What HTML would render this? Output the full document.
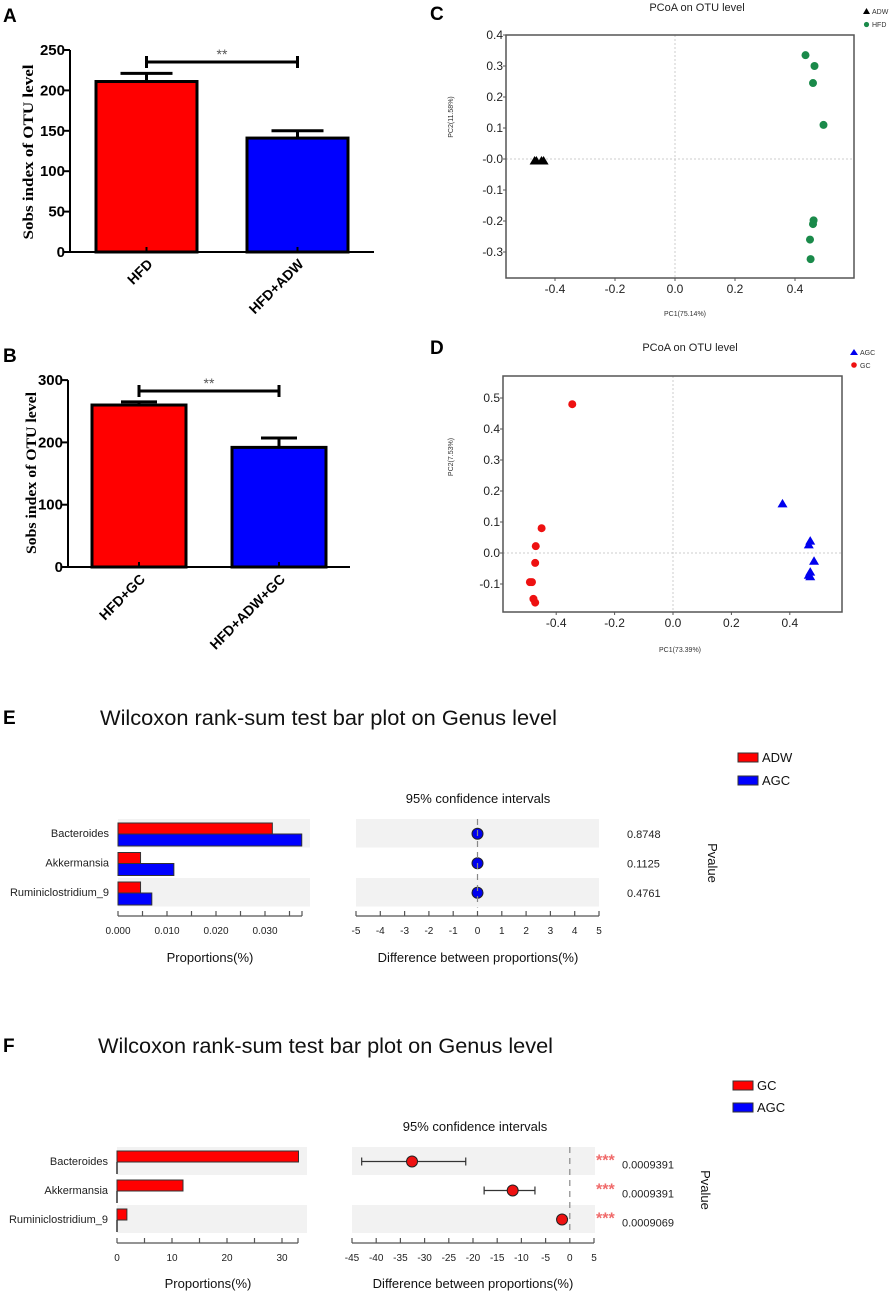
<!DOCTYPE html>
<html><head><meta charset="utf-8"><style>
html,body{margin:0;padding:0;background:#fff;}
svg{display:block;font-family:"Liberation Sans",sans-serif;}
</style></head><body>
<svg id="fig" width="892" height="1294" viewBox="0 0 892 1294" xmlns="http://www.w3.org/2000/svg">
<rect width="892" height="1294" fill="#fff"/>
<text x="3" y="22" font-size="19" font-weight="bold">A</text>
<text x="3" y="362" font-size="19" font-weight="bold">B</text>
<text x="430" y="20" font-size="19" font-weight="bold">C</text>
<text x="430" y="354" font-size="19" font-weight="bold">D</text>
<text x="3" y="724" font-size="19" font-weight="bold">E</text>
<text x="3" y="1052" font-size="19" font-weight="bold">F</text>
<text transform="translate(33,152) rotate(-90)" text-anchor="middle" font-family="Liberation Serif" font-weight="bold" font-size="15" textLength="175" lengthAdjust="spacingAndGlyphs">Sobs index of OTU level</text>
<text transform="translate(36,473) rotate(-90)" text-anchor="middle" font-family="Liberation Serif" font-weight="bold" font-size="15" textLength="162" lengthAdjust="spacingAndGlyphs">Sobs index of OTU level</text>
<text x="697" y="11" text-anchor="middle" font-size="11" fill="#222">PCoA on OTU level</text>
<text x="685" y="316" text-anchor="middle" font-size="7" fill="#333">PC1(75.14%)</text>
<text transform="translate(453,117) rotate(-90)" text-anchor="middle" font-size="7" fill="#333">PC2(11.58%)</text>
<text x="690" y="351" text-anchor="middle" font-size="11" fill="#222">PCoA on OTU level</text>
<text x="680" y="652" text-anchor="middle" font-size="7" fill="#333">PC1(73.39%)</text>
<text transform="translate(453,457) rotate(-90)" text-anchor="middle" font-size="7" fill="#333">PC2(7.53%)</text>
<g font-size="7" fill="#333">
<polygon points="863,14 866.5,8 870,14" fill="#000"/>
<text x="872" y="14">ADW</text>
<circle cx="866.5" cy="24.5" r="2.6" fill="#1a8a4a"/>
<text x="872" y="27">HFD</text>
</g>
<g font-size="7" fill="#333">
<polygon points="850,355 854,349 858,355" fill="#0000ee"/>
<text x="860" y="355">AGC</text>
<circle cx="854" cy="365" r="2.8" fill="#ee1111"/>
<text x="860" y="368">GC</text>
</g>
<text x="100" y="725" font-size="21" fill="#111" textLength="457" lengthAdjust="spacingAndGlyphs">Wilcoxon rank-sum test bar plot on Genus level</text>
<text x="478" y="803" text-anchor="middle" font-size="13" fill="#111">95% confidence intervals</text>
<text x="210" y="962" text-anchor="middle" font-size="13" fill="#111">Proportions(%)</text>
<text x="478" y="962" text-anchor="middle" font-size="13" fill="#111">Difference between proportions(%)</text>
<text transform="translate(708,863) rotate(90)" text-anchor="middle" font-size="13" fill="#111">Pvalue</text>
<g font-size="13" fill="#111">
<rect x="738" y="753" width="20" height="9" fill="#ff0000" stroke="#333" stroke-width="1"/>
<text x="762" y="762">ADW</text>
<rect x="738" y="776" width="20" height="9" fill="#0000ff" stroke="#333" stroke-width="1"/>
<text x="762" y="785">AGC</text>
</g>
<text x="98" y="1053" font-size="21" fill="#111" textLength="455" lengthAdjust="spacingAndGlyphs">Wilcoxon rank-sum test bar plot on Genus level</text>
<text x="475" y="1131" text-anchor="middle" font-size="13" fill="#111">95% confidence intervals</text>
<text x="208" y="1288" text-anchor="middle" font-size="13" fill="#111">Proportions(%)</text>
<text x="473" y="1288" text-anchor="middle" font-size="13" fill="#111">Difference between proportions(%)</text>
<text transform="translate(701,1190) rotate(90)" text-anchor="middle" font-size="13" fill="#111">Pvalue</text>
<g font-size="13" fill="#111">
<rect x="733" y="1081" width="20" height="9" fill="#ff0000" stroke="#333" stroke-width="1"/>
<text x="757" y="1090">GC</text>
<rect x="733" y="1103" width="20" height="9" fill="#0000ff" stroke="#333" stroke-width="1"/>
<text x="757" y="1112">AGC</text>
</g>
</svg>
<script>
const aCats = ['HFD', 'HFD+ADW'];
const aMeans = [211, 141];
const aErr = [10, 9];
const aTicks = [0, 50, 100, 150, 200, 250];
const bCats = ['HFD+GC', 'HFD+ADW+GC'];
const bMeans = [260, 192];
const bErr = [5, 15];
const bTicks = [0, 100, 200, 300];
const cAdwX = [-0.468, -0.462, -0.445, -0.438];
const cAdwY = [-0.005, -0.005, -0.005, -0.005];
const cHfdX = [0.435, 0.465, 0.46, 0.495, 0.462, 0.46, 0.45, 0.452];
const cHfdY = [0.335, 0.30, 0.245, 0.11, -0.198, -0.21, -0.26, -0.323];
const cXTicks = [-0.4, -0.2, 0.0, 0.2, 0.4];
const cYTicks = [0.4, 0.3, 0.2, 0.1, 0.0, -0.1, -0.2, -0.3];
const cYTickLabels = ['0.4', '0.3', '0.2', '0.1', '-0.0', '-0.1', '-0.2', '-0.3'];
const dGcX = [-0.345, -0.45, -0.47, -0.472, -0.49, -0.483, -0.478, -0.472];
const dGcY = [0.48, 0.08, 0.022, -0.032, -0.094, -0.094, -0.148, -0.16];
const dAgcX = [0.375, 0.47, 0.465, 0.483, 0.47, 0.465, 0.47];
const dAgcY = [0.16, 0.04, 0.028, -0.025, -0.06, -0.07, -0.075];
const dXTicks = [-0.4, -0.2, 0.0, 0.2, 0.4];
const dYTicks = [0.5, 0.4, 0.3, 0.2, 0.1, 0.0, -0.1];
const genera = ['Bacteroides', 'Akkermansia', 'Ruminiclostridium_9'];
const eAdw = [0.0315, 0.0046, 0.0046];
const eAgc = [0.0375, 0.0114, 0.0069];
const eDiff = [0, 0, 0];
const eLo = [-0.05, -0.05, -0.05];
const eHi = [0.05, 0.05, 0.05];
const ePval = ['0.8748', '0.1125', '0.4761'];
const eLeftTicks = [0, 0.005, 0.01, 0.015, 0.02, 0.025, 0.03, 0.035];
const eLeftLabels = ['0.000', '0.010', '0.020', '0.030'];
const eLeftLabelVals = [0, 0.01, 0.02, 0.03];
const eRightTicks = [-5, -4, -3, -2, -1, 0, 1, 2, 3, 4, 5];
const fGc = [33, 12, 1.8];
const fAgc = [0, 0, 0];
const fDiff = [-32.6, -11.8, -1.6];
const fLo = [-43, -17.7, -2.4];
const fHi = [-21.5, -7.2, -0.9];
const fPval = ['0.0009391', '0.0009391', '0.0009069'];
const fStars = ['***', '***', '***'];
const fLeftTicks = [0, 5, 10, 15, 20, 25, 30];
const fLeftLabelVals = [0, 10, 20, 30];
const fLeftLabels = ['0', '10', '20', '30'];
const fRightTicks = [-45, -40, -35, -30, -25, -20, -15, -10, -5, 0, 5];

const NS = 'http://www.w3.org/2000/svg';
const svg = document.getElementById('fig');
function mk(tag, a, txt) {
  const e = document.createElementNS(NS, tag);
  for (const k in a) e.setAttribute(k, a[k]);
  if (txt !== undefined) e.textContent = txt;
  svg.appendChild(e);
  return e;
}

function barChart(p, cats, means, errs, ticks, g) {
  const y = v => g.zeroY - v * g.k;
  for (let i = 0; i < cats.length; i++) {
    const x0 = g.barX0 + i * g.step, cx = x0 + g.bw / 2;
    const r = mk('rect', {x: x0, y: y(means[i]), width: g.bw, height: g.zeroY - y(means[i]), fill: i === 0 ? '#ff0000' : '#0000ff', stroke: '#000', 'stroke-width': 3});
    
    
    const e1 = mk('line', {x1: cx, x2: cx, y1: y(means[i]), y2: y(means[i] + errs[i]), stroke: '#000', 'stroke-width': 3});
    
    
    const e2 = mk('line', {x1: cx - g.cap, x2: cx + g.cap, y1: y(means[i] + errs[i]), y2: y(means[i] + errs[i]), stroke: '#000', 'stroke-width': 3});
    
    
    const tk = mk('line', {x1: cx, x2: cx, y1: g.zeroY, y2: g.zeroY - 5, stroke: '#000', 'stroke-width': 2});
    
    
    const lb = mk('text', {transform: 'translate(' + (cx + 7) + ',' + (g.zeroY + g.labDy) + ') rotate(-45)', 'text-anchor': 'end', 'font-size': 14, 'font-weight': 'bold'}, cats[i]);
    
    
  }
  const ax = mk('line', {x1: g.axX, x2: g.axX, y1: y(ticks[ticks.length - 1]), y2: g.zeroY + 1, stroke: '#000', 'stroke-width': 2});
  
  
  const bx = mk('line', {x1: g.axX, x2: g.axEnd, y1: g.zeroY, y2: g.zeroY, stroke: '#000', 'stroke-width': 2});
  
  
  ticks.forEach(t => {
    const l = mk('line', {x1: g.axX - 6, x2: g.axX, y1: y(t), y2: y(t), stroke: '#000', 'stroke-width': 2});
    
    
    const tx = mk('text', {x: g.axX - 5, y: y(t) + 5, 'text-anchor': 'end', 'font-size': 15, 'font-weight': 'bold'}, String(t));
    
    
  });
  const c0 = g.barX0 + g.bw / 2, c1 = g.barX0 + g.step + g.bw / 2;
  const br = mk('path', {d: 'M' + c0 + ',' + (g.brY - 6) + 'V' + (g.brY + 6) + 'M' + c0 + ',' + g.brY + 'H' + c1 + 'M' + c1 + ',' + (g.brY - 6) + 'V' + (g.brY + 6), stroke: '#000', 'stroke-width': 3, fill: 'none'});
  
  
  const st = mk('text', {x: (c0 + c1) / 2, y: g.brY - 3, 'text-anchor': 'middle', 'font-size': 14, fill: '#555'}, '**');
  
  
}
barChart('a', aCats, aMeans, aErr, aTicks, {zeroY: 252, k: 0.808, barX0: 96, bw: 101, step: 151, cap: 26, axX: 70, axEnd: 374, brY: 62, labDy: 13});
barChart('b', bCats, bMeans, bErr, bTicks, {zeroY: 567, k: 0.623, barX0: 92, bw: 94, step: 140, cap: 18, axX: 68, axEnd: 350, brY: 391, labDy: 13});

function pcoa(p, g, xt, yt, ytl, s1x, s1y, s1, s2x, s2y, s2) {
  const X = v => g.x0 + v * g.kx, Y = v => g.y0 - v * g.ky;
  const v0 = mk('line', {x1: X(0), x2: X(0), y1: g.top, y2: g.bot, stroke: '#ccc', 'stroke-dasharray': '2,2'});
  
  
  const h0 = mk('line', {x1: g.left, x2: g.right, y1: Y(0), y2: Y(0), stroke: '#ccc', 'stroke-dasharray': '2,2'});
  
  
  const fr = mk('rect', {x: g.left, y: g.top, width: g.right - g.left, height: g.bot - g.top, fill: 'none', stroke: '#555', 'stroke-width': 1.5});
  
  
  xt.forEach(t => {
    const l = mk('line', {x1: X(t), x2: X(t), y1: g.bot, y2: g.bot + 3, stroke: '#555'});
    
    
    const tx = mk('text', {x: X(t), y: g.bot + 15, 'text-anchor': 'middle', 'font-size': 12, fill: '#222'}, t.toFixed(1));
    
    
  });
  yt.forEach((t, i) => {
    const l = mk('line', {x1: g.left - 3, x2: g.left, y1: Y(t), y2: Y(t), stroke: '#555'});
    
    
    const tx = mk('text', {x: g.left - 3, y: Y(t) + 4, 'text-anchor': 'end', 'font-size': 12, fill: '#222'}, ytl ? ytl[i] : t.toFixed(1));
    
    
  });
  s1x.forEach((v, i) => {
    const x = X(v), y = Y(s1y[i]);
    const m = mk('polygon', {points: (x - 5) + ',' + (y + 4) + ' ' + x + ',' + (y - 4.5) + ' ' + (x + 5) + ',' + (y + 4), fill: s1});
    
    
  });
  s2x.forEach((v, i) => {
    const c = mk('circle', {cx: X(v), cy: Y(s2y[i]), r: 4, fill: s2});
    
    
  });
}
pcoa('c', {x0: 675, kx: 300, y0: 159, ky: 310, left: 506, right: 854, top: 35, bot: 278}, cXTicks, cYTicks, cYTickLabels, cAdwX, cAdwY, '#000', cHfdX, cHfdY, '#1a8a4a');
pcoa('d', {x0: 673, kx: 292, y0: 553, ky: 310, left: 503, right: 842, top: 376, bot: 612}, dXTicks, dYTicks, null, dAgcX, dAgcY, '#0000ee', dGcX, dGcY, '#ee1111');

function wilcox(p, g, vA, vB, diff, lo, hi, pv, stars, lTicks, lLabVals, lLabs, rTicks) {
  const L = v => g.lx0 + v * g.lk;
  const R = v => g.rx0 + (v - rTicks[0]) * g.rk;
  genera.forEach((name, i) => {
    const top = g.rowTop + i * g.rowH;
    if (i !== 1) {
      const b1 = mk('rect', {x: g.lx0, y: top, width: g.lBandEnd - g.lx0, height: g.rowH - 1, fill: '#f2f2f2'});
      
      
      const b2 = mk('rect', {x: g.rx0, y: top, width: g.rBandEnd - g.rx0, height: g.rowH - 1, fill: '#f2f2f2'});
      
      
    }
    const lab = mk('text', {x: g.lx0 - 9, y: top + 18, 'text-anchor': 'end', 'font-size': 11, fill: '#222'}, name);
    
    
    const ra = mk('rect', {x: g.lx0, y: top + 4, width: L(vA[i]) - g.lx0, height: 11, fill: '#ff0000', stroke: '#333', 'stroke-width': 1});
    
    
    if (vB[i] > 0) {
      const rb = mk('rect', {x: g.lx0, y: top + 15, width: L(vB[i]) - g.lx0, height: 12, fill: '#0000ff', stroke: '#333', 'stroke-width': 1});
      
      
    } else {
      const rb = mk('line', {x1: g.lx0, x2: g.lx0, y1: top + 15, y2: top + 27, stroke: '#333', 'stroke-width': 1.5});
      
      
    }
    const cy = top + g.rowH / 2;
    const ci = mk('path', {d: 'M' + R(lo[i]) + ',' + (cy - 4) + 'V' + (cy + 4) + 'M' + R(lo[i]) + ',' + cy + 'H' + R(hi[i]) + 'M' + R(hi[i]) + ',' + (cy - 4) + 'V' + (cy + 4), stroke: '#333', 'stroke-width': 1.2, fill: 'none'});
    
    
    const pt = mk('circle', {cx: R(diff[i]), cy: cy, r: 5.5, fill: g.ptColor, stroke: '#222', 'stroke-width': 1});
    
    
    const pvt = mk('text', {x: g.pvX, y: cy + g.pvDy, 'font-size': 11, fill: '#222'}, pv[i]);
    
    
    if (stars) {
      const st = mk('text', {x: g.rBandEnd + 1, y: cy + 4, 'font-size': 16, 'font-weight': 'bold', fill: '#f06a6a'}, stars[i]);
      
      
    }
  });
  const zl = mk('line', {x1: R(0), x2: R(0), y1: g.rowTop, y2: g.rowTop + 3 * g.rowH, stroke: '#888', 'stroke-width': 1.2, 'stroke-dasharray': '6,5'});
  
  
  const la = mk('line', {x1: g.lx0, x2: g.lAxisEnd, y1: g.axY, y2: g.axY, stroke: '#555', 'stroke-width': 1.2});
  
  
  lTicks.concat([(g.lAxisEnd - g.lx0) / g.lk]).forEach(t => {
    const l = mk('line', {x1: L(t), x2: L(t), y1: g.axY, y2: g.axY - 5, stroke: '#555', 'stroke-width': 1.2});
    
    
  });
  lLabVals.forEach((t, i) => {
    const tx = mk('text', {x: L(t), y: g.axY + 18, 'text-anchor': 'middle', 'font-size': 10, fill: '#222'}, lLabs[i]);
    
    
  });
  const rax = mk('line', {x1: R(rTicks[0]), x2: R(rTicks[rTicks.length - 1]), y1: g.axY, y2: g.axY, stroke: '#555', 'stroke-width': 1.2});
  
  
  rTicks.forEach(t => {
    const l = mk('line', {x1: R(t), x2: R(t), y1: g.axY, y2: g.axY - 5, stroke: '#555', 'stroke-width': 1.2});
    
    
    const tx = mk('text', {x: R(t), y: g.axY + 18, 'text-anchor': 'middle', 'font-size': 10, fill: '#222'}, String(t));
    
    
  });
}
wilcox('e', {lx0: 118, lk: 4900, lBandEnd: 310, lAxisEnd: 302, rx0: 356, rk: 24.3, rBandEnd: 599, rowTop: 819, rowH: 29.5, axY: 916, pvX: 627, pvDy: 4, ptColor: '#0000ee'}, eAdw, eAgc, eDiff, eLo, eHi, ePval, null, eLeftTicks, eLeftLabelVals, eLeftLabels, eRightTicks);
wilcox('f', {lx0: 117, lk: 5.5, lBandEnd: 307, lAxisEnd: 298, rx0: 352, rk: 4.84, rBandEnd: 595, rowTop: 1147, rowH: 29, axY: 1243, pvX: 622, pvDy: 7, ptColor: '#ee1111'}, fGc, fAgc, fDiff, fLo, fHi, fPval, fStars, fLeftTicks, fLeftLabelVals, fLeftLabels, fRightTicks);
</script>
</body></html>
